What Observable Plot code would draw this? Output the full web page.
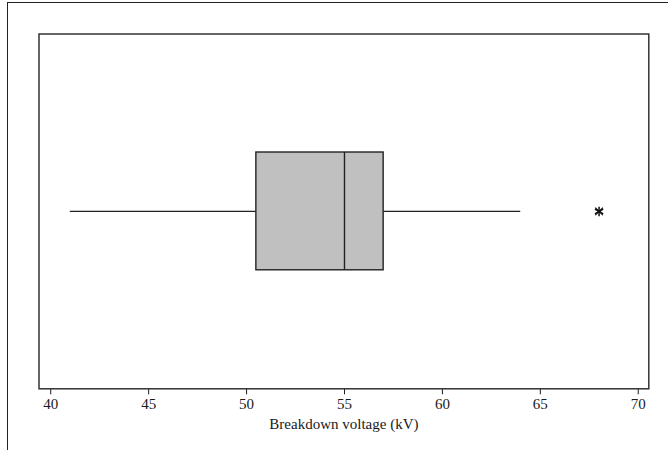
<!DOCTYPE html>
<html>
<head>
<meta charset="utf-8">
<script src="https://cdn.jsdelivr.net/npm/d3@7"></script>
<script src="https://cdn.jsdelivr.net/npm/@observablehq/plot@0.6"></script>
<style>
  html, body { margin: 0; padding: 0; background: #fff; }
  #wrap { position: relative; width: 668px; height: 450px; overflow: hidden; }
  #outer { position: absolute; left: 6.5px; top: 2px; width: 700px; height: 500px;
           border-left: 1.5px solid #222; border-top: 1.5px solid #222; pointer-events: none; }
  #chart { position: absolute; left: 0; top: 0; }
  #chart svg text { fill: #1a1a1a; }
</style>
</head>
<body>
<div id="wrap"><div id="chart"></div><div id="outer"></div></div>
<script>
// Box plot summary of breakdown voltage (kV)
const categories = ["Breakdown voltage"];
const whiskerLow = [41.0];
const q1 = [50.5];
const median = [55.0];
const q3 = [57.0];
const whiskerHigh = [64.0];
const outliers = [68.0];
const xTicks = [40, 45, 50, 55, 60, 65, 70];

const boxes = categories.map((c, i) => ({
  cat: c, lo: whiskerLow[i], q1: q1[i], med: median[i], q3: q3[i], hi: whiskerHigh[i]
}));
const outlierData = outliers.map(v => ({ v }));

const chart = Plot.plot({
  width: 668,
  height: 450,
  marginLeft: 38.5,
  marginRight: 19.7,
  marginTop: 33.5,
  marginBottom: 61.7,
  style: { fontFamily: "'Liberation Serif', 'Times New Roman', serif", fontSize: "15px", color: "#1a1a1a", background: "transparent" },
  x: {
    domain: [39.4, 70.54],
    ticks: xTicks,
    tickSize: 6,
    tickPadding: 4,
    label: "Breakdown voltage (kV)",
    labelAnchor: "center",
    labelArrow: "none",
    labelOffset: 40
  },
  y: { domain: [0, 1], axis: null },
  marks: [
    Plot.ruleY(boxes, { y: 0.5, x1: "lo", x2: "q1", stroke: "#222", strokeWidth: 1.2 }),
    Plot.ruleY(boxes, { y: 0.5, x1: "q3", x2: "hi", stroke: "#222", strokeWidth: 1.2 }),
    Plot.rect(boxes, { x1: "q1", x2: "q3", y1: 0.334, y2: 0.666, fill: "#c0c0c0", stroke: "#222", strokeWidth: 1.4 }),
    Plot.ruleX(boxes, { x: "med", y1: 0.334, y2: 0.666, stroke: "#222", strokeWidth: 1.4 }),
    Plot.dot(outlierData, { x: "v", y: 0.5, symbol: "asterisk", r: 4.5, stroke: "#111", strokeWidth: 1.5 }),
    Plot.dot(outlierData, { x: "v", y: 0.5, symbol: "times", r: 3.5, stroke: "#111", strokeWidth: 1.2 }),
    Plot.frame({ stroke: "#333", strokeWidth: 1.5 })
  ]
});
document.getElementById("chart").appendChild(chart);
</script>
</body>
</html>
